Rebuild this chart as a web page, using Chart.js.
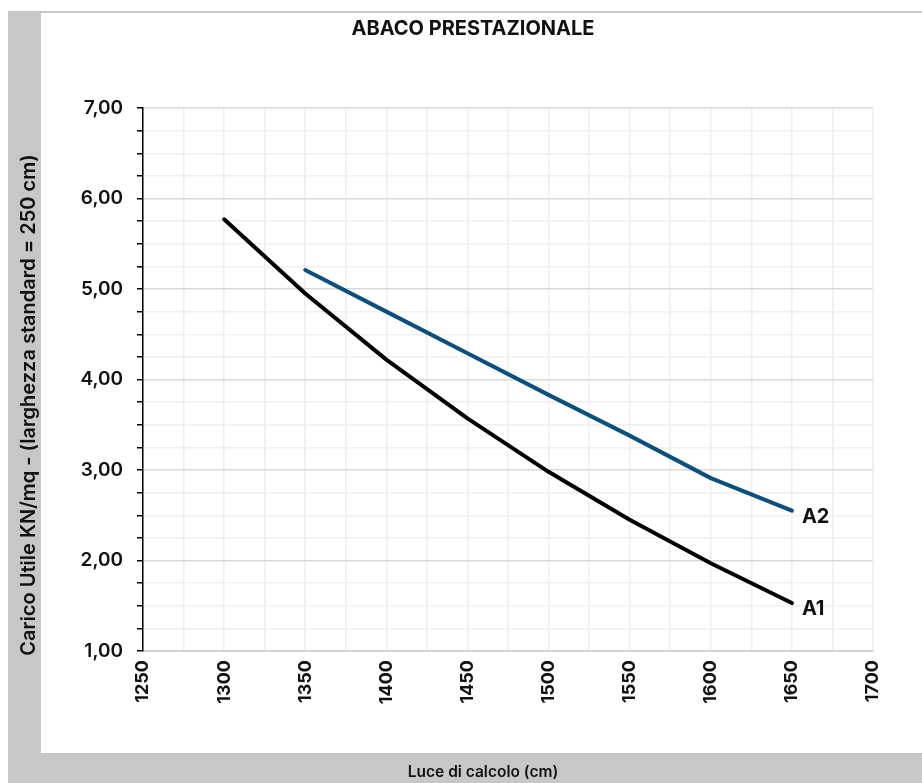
<!DOCTYPE html>
<html lang="it">
  <head>
    <meta charset="UTF-8" />
    <title>Abaco prestazionale</title>
    <script src="https://cdn.jsdelivr.net/npm/chart.js"></script>
    <style>
      html, body { margin: 0; padding: 0; background: #ffffff; }
      #wrap { width: 922px; height: 783px; }
    </style>
  </head>
  <body>
    <div id="wrap"><canvas id="abaco" width="922" height="783"></canvas></div>

    <script>
      // dati
      const luceA1 = [1300, 1350, 1400, 1450, 1500, 1550, 1600, 1650];
      const caricoA1 = [5.77, 4.95, 4.22, 3.57, 2.98, 2.45, 1.97, 1.53];
      const luceA2 = [1350, 1400, 1450, 1500, 1550, 1600, 1650];
      const caricoA2 = [5.21, 4.75, 4.29, 3.83, 3.38, 2.91, 2.55];
      const serieNomi = ["A1", "A2"];
      const titolo = "ABACO PRESTAZIONALE";
      const titoloX = "Luce di calcolo (cm)";
      const titoloY = "Carico Utile KN/mq - (larghezza standard = 250 cm)";

      const FONT = "Inter, 'DejaVu Sans', sans-serif";
      const GRIGIO = "#c6c7c8";

      // cornice grigia + titoli
      const cornice = {
        id: "cornice",
        beforeDraw(chart) {
          const ctx = chart.ctx;
          ctx.save();
          ctx.fillStyle = "#ffffff";
          ctx.fillRect(0, 0, chart.width, chart.height);
          ctx.fillStyle = GRIGIO;
          ctx.fillRect(8, 11, 33, chart.height - 11);
          ctx.fillRect(8, 753, chart.width - 8, chart.height - 753);
          ctx.fillRect(41, 11, chart.width - 41, 2);
          ctx.restore();
        },
        afterDraw(chart) {
          const ctx = chart.ctx;
          ctx.save();
          ctx.fillStyle = "#111111";
          ctx.textAlign = "center";
          ctx.textBaseline = "middle";
          ctx.font = "bold 20px " + FONT;
          ctx.fillText(titolo, 473, 29);
          ctx.font = "600 15.5px " + FONT;
          ctx.fillText(titoloX, 483, 772);
          ctx.font = "600 20px " + FONT;
          ctx.translate(29, 405);
          ctx.rotate(-Math.PI / 2);
          ctx.fillText(titoloY, 0, 0);
          ctx.restore();
        },
      };

      // etichette A1 / A2 alla fine delle linee
      const etichette = {
        id: "etichette",
        afterDatasetsDraw(chart) {
          const ctx = chart.ctx;
          ctx.save();
          ctx.fillStyle = "#111111";
          ctx.font = "bold 20px " + FONT;
          ctx.textAlign = "left";
          ctx.textBaseline = "middle";
          chart.data.datasets.forEach((ds, i) => {
            const pts = chart.getDatasetMeta(i).data;
            const last = pts[pts.length - 1];
            ctx.fillText(ds.label, last.x + 10, last.y + 6);
          });
          ctx.restore();
        },
      };

      const ctx = document.getElementById("abaco").getContext("2d");

      new Chart(ctx, {
        type: "line",
        data: {
          datasets: [
            {
              label: serieNomi[0],
              data: luceA1.map((x, i) => ({ x, y: caricoA1[i] })),
              borderColor: "#000000",
              borderWidth: 4,
              pointRadius: 0,
              tension: 0,
              borderCapStyle: "round",
              borderJoinStyle: "round",
              fill: false,
            },
            {
              label: serieNomi[1],
              data: luceA2.map((x, i) => ({ x, y: caricoA2[i] })),
              borderColor: "#0a4f7d",
              borderWidth: 4,
              pointRadius: 0,
              tension: 0,
              borderCapStyle: "round",
              borderJoinStyle: "round",
              fill: false,
            },
          ],
        },
        options: {
          responsive: false,
          animation: false,
          devicePixelRatio: 1,
          layout: { padding: { left: 0, right: 49, top: 108, bottom: 0 } },
          plugins: {
            legend: { display: false },
            tooltip: { enabled: false },
          },
          scales: {
            x: {
              type: "linear",
              min: 1250,
              max: 1700,
              afterFit: (s) => { s.height = 132; },
              afterBuildTicks: (s) => {
                const t = [];
                for (let v = 1250; v <= 1700; v += 25) t.push({ value: v });
                s.ticks = t;
              },
              ticks: {
                autoSkip: false,
                minRotation: 90,
                maxRotation: 90,
                padding: 9,
                color: "#111111",
                font: { family: FONT, size: 18, weight: "bold" },
                callback: (v) => (v % 50 === 0 ? String(v) : ""),
              },
              grid: {
                color: "#eeeeee",
                lineWidth: 1.5,
                drawTicks: false,
              },
              border: { color: "#d4d4d4", width: 2 },
            },
            y: {
              min: 1,
              max: 7,
              afterFit: (s) => { s.width = 143; },
              afterBuildTicks: (s) => {
                const t = [];
                for (let v = 1; v <= 7.001; v += 0.25) t.push({ value: Math.round(v * 100) / 100 });
                s.ticks = t;
              },
              ticks: {
                autoSkip: false,
                padding: 14,
                color: "#111111",
                font: { family: FONT, size: 19, weight: "600" },
                callback: (v) => (Number.isInteger(v) ? v.toFixed(2).replace(".", ",") : ""),
              },
              grid: {
                color: (c) => (c.tick && Number.isInteger(c.tick.value) ? "#d9d9d9" : "#efefef"),
                lineWidth: 1.5,
                tickColor: "#000000",
                tickLength: 6,
                tickWidth: 1.5,
              },
              border: { color: "#000000", width: 1.5 },
            },
          },
        },
        plugins: [cornice, etichette],
      });
    </script>
  </body>
</html>
